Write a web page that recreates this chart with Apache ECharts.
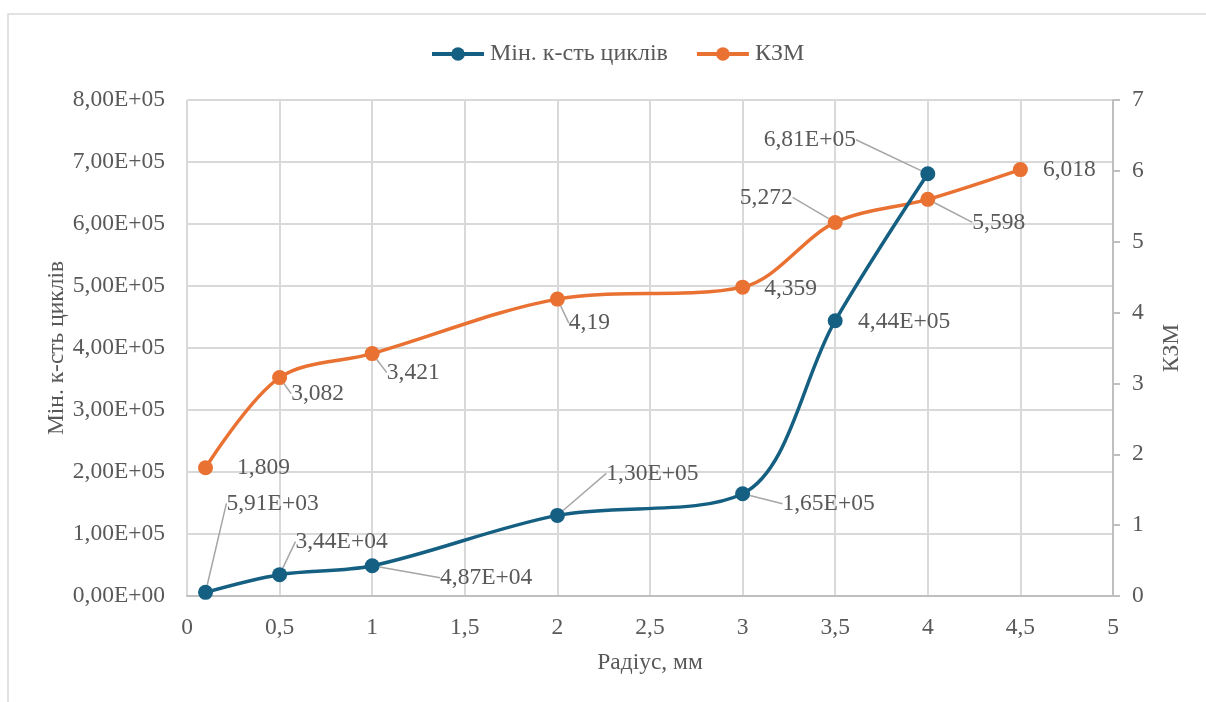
<!DOCTYPE html>
<html>
<head>
<meta charset="utf-8">
<script src="https://cdn.jsdelivr.net/npm/echarts@6/dist/echarts.min.js"></script>
<style>
  html, body { margin: 0; padding: 0; background: #fff; }
  #chart { width: 1206px; height: 702px; }
</style>
</head>
<body>
<div id="chart"></div>
<script>
// Радіус, мм
const radiusCycles = [0.1, 0.5, 1, 2, 3, 3.5, 4];
const minCycles = [5910, 34400, 48700, 130000, 165000, 444000, 681000];
const radiusKzm = [0.1, 0.5, 1, 2, 3, 3.5, 4, 4.5];
const kzm = [1.809, 3.082, 3.421, 4.19, 4.359, 5.272, 5.598, 6.018];

const seriesNames = ['Мін. к-сть циклів', 'КЗМ'];
const axisTitles = { x: 'Радіус, мм', left: 'Мін. к-сть циклів', right: 'КЗМ' };

// label placement relative to each point: [dx, dy, leader line]
const cyclesLabelPos = [[67, -89, true], [62, -33, true], [114, 12, true], [95, -42, true],
                        [86, 10, true], [69, 1, false], [-118, -34, true]];
const kzmLabelPos = [[58, 0, false], [38, 16, true], [41, 19, true], [32, 24, true],
                     [48, 2, false], [-69, -25, true], [71, 23, true], [49, 0, false]];

const FONT = '"Liberation Serif", "Times New Roman", serif';
const FS = 23.5;
const TEXT = '#595959';
const BLUE = '#156082';
const ORANGE = '#E97132';
const SMOOTH = 0.33;

function comma(v) { return String(v).replace('.', ','); }
function sci(v) {
  if (v === 0) return '0,00E+00';
  let e = Math.floor(Math.log10(Math.abs(v)));
  let m = v / Math.pow(10, e);
  if (Math.round(m * 100) / 100 >= 10) { m /= 10; e += 1; }
  const sign = e < 0 ? '-' : '+';
  const ee = String(Math.abs(e)).padStart(2, '0');
  return m.toFixed(2).replace('.', ',') + 'E' + sign + ee;
}

function buildData(xs, ys, pos) {
  return xs.map((x, i) => ({ value: [x, ys[i]], labelLine: { show: pos[i][2] } }));
}

const chart = echarts.init(document.getElementById('chart'), null, { renderer: 'canvas' });

const labelText = { fontFamily: FONT, fontSize: FS, color: TEXT };

chart.setOption({
  animation: false,
  textStyle: { fontFamily: FONT },
  graphic: [{
    type: 'rect',
    shape: { x: 8, y: 14, width: 1210, height: 700 },
    style: { fill: 'none', stroke: '#D9D9D9', lineWidth: 1.5 },
    silent: true
  }],
  legend: {
    top: 37,
    left: 425,
    itemWidth: 52,
    itemHeight: 17,
    itemGap: 27,
    lineStyle: { width: 4 },
    textStyle: { fontFamily: FONT, fontSize: 24, color: TEXT, padding: [0, 0, 0, 1] },
    data: seriesNames
  },
  grid: { left: 187, right: 93, top: 100, bottom: 106, containLabel: false },
  xAxis: {
    type: 'value', min: 0, max: 5, interval: 0.5,
    name: axisTitles.x, nameLocation: 'middle', nameGap: 55, nameMoveOverlap: false,
    nameTextStyle: { fontFamily: FONT, fontSize: FS, color: TEXT },
    axisLine: { show: true, lineStyle: { color: '#BFBFBF', width: 2 } },
    axisTick: { show: false },
    axisLabel: { fontFamily: FONT, fontSize: FS, color: TEXT, margin: 20, formatter: v => comma(v) },
    splitLine: { show: true, lineStyle: { color: '#D9D9D9', width: 2 } }
  },
  yAxis: [{
    type: 'value', min: 0, max: 800000, interval: 100000, position: 'left',
    name: axisTitles.left, nameLocation: 'middle', nameGap: 118, nameRotate: 90, nameMoveOverlap: false,
    nameTextStyle: { fontFamily: FONT, fontSize: FS, color: TEXT },
    axisLine: { show: false },
    axisTick: { show: false },
    axisLabel: { fontFamily: FONT, fontSize: FS, color: TEXT, margin: 22, formatter: v => sci(v) },
    splitLine: { show: true, lineStyle: { color: '#D9D9D9', width: 2 } }
  }, {
    type: 'value', min: 0, max: 7, interval: 1, position: 'right',
    name: axisTitles.right, nameLocation: 'middle', nameGap: 47, nameRotate: 90, nameMoveOverlap: false,
    nameTextStyle: { fontFamily: FONT, fontSize: FS, color: TEXT },
    axisLine: { show: true, lineStyle: { color: '#BFBFBF', width: 2 } },
    axisTick: { show: true, length: 7, lineStyle: { color: '#BFBFBF', width: 2 } },
    axisLabel: { fontFamily: FONT, fontSize: FS, color: TEXT, margin: 19 },
    splitLine: { show: false }
  }],
  series: [{
    name: seriesNames[0],
    type: 'line',
    yAxisIndex: 0,
    smooth: SMOOTH,
    symbol: 'circle',
    symbolSize: 15,
    z: 3,
    lineStyle: { color: BLUE, width: 3.5 },
    itemStyle: { color: BLUE },
    data: buildData(radiusCycles, minCycles, cyclesLabelPos),
    label: {
      show: true, position: 'inside', ...labelText,
      formatter: p => sci(p.value[1])
    },
    labelLine: { show: true, lineStyle: { color: '#A6A6A6', width: 1.5 } },
    labelLayout: p => ({ dx: cyclesLabelPos[p.dataIndex][0], dy: cyclesLabelPos[p.dataIndex][1] })
  }, {
    name: seriesNames[1],
    type: 'line',
    yAxisIndex: 1,
    smooth: SMOOTH,
    symbol: 'circle',
    symbolSize: 15,
    z: 2,
    lineStyle: { color: ORANGE, width: 3.5 },
    itemStyle: { color: ORANGE },
    data: buildData(radiusKzm, kzm, kzmLabelPos),
    label: {
      show: true, position: 'inside', ...labelText,
      formatter: p => comma(p.value[1])
    },
    labelLine: { show: true, lineStyle: { color: '#A6A6A6', width: 1.5 } },
    labelLayout: p => ({ dx: kzmLabelPos[p.dataIndex][0], dy: kzmLabelPos[p.dataIndex][1] })
  }]
});
</script>
</body>
</html>
